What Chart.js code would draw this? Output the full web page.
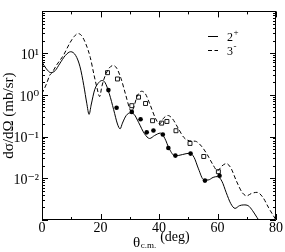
<!DOCTYPE html>
<html><head><meta charset="utf-8">
<script src="https://cdn.jsdelivr.net/npm/chart.js@4.4.1/dist/chart.umd.min.js"></script>
<style>html,body{margin:0;padding:0;background:#fff;}#wrap{width:285px;height:252px;position:relative;}</style>
</head><body><div id="wrap"><canvas id="c" width="285" height="252"></canvas></div>
<script>
const SERIF = "'Liberation Serif','DejaVu Serif','Times New Roman',serif";

// Series labels (state + parity)
const seriesLabels = ['2+', '3-'];

// 2+ calculation (solid)
const theta2Curve = [0,1.5,3,4.5,6,8,9.8,11.5,13,14.3,15.3,16.1,16.8,18,19.5,20.5,21.5,23,24.5,25.8,26.7,27.5,28.8,30.2,31.5,33,35,36.8,38.5,40.5,42,43.5,45.5,48,50.5,52,53.5,55.3,56.8,58.5,60,61.5,63,64.5,66,67.5,69,70.5,72,73.5,75];
const sigma2Curve = [6.1,4.2,3.4,3.8,5.5,8.8,10.8,8.8,4.7,1.66,0.63,0.34,0.57,1.32,2.0,2.2,2.0,1.07,0.44,0.2,0.153,0.21,0.32,0.37,0.34,0.22,0.118,0.09,0.106,0.121,0.09,0.051,0.0343,0.037,0.040,0.0316,0.0168,0.0092,0.0091,0.0105,0.011,0.0085,0.0045,0.0025,0.0019,0.0022,0.0023,0.0022,0.00167,0.00115,0.0008];

// 3- calculation (dashed)
const theta3Curve = [0,1.5,2.7,3.3,5,7.3,9.5,11,12.3,13.5,15,16.5,17.7,18.8,19.7,20.5,21.5,23,24.3,25.5,27,28.5,30,30.6,31.3,32.5,34,35.3,37,38.8,40.2,41.5,43,44.5,46.5,48.5,50.5,52.5,54.5,56.5,58.5,60,61.5,63,64.5,66.5,68.5,70,71.5,73.5,75.5,77.5,80];
const sigma3Curve = [1.07,1.81,3.0,3.3,5.2,8.8,17.4,25,29.4,26.4,16.5,7.9,3.2,1.47,0.91,1.63,2.76,4.4,5.05,4.4,2.48,1.07,0.46,0.39,0.49,0.91,1.22,1.07,0.57,0.273,0.2,0.273,0.32,0.273,0.161,0.095,0.079,0.077,0.059,0.037,0.0208,0.0152,0.0197,0.0225,0.018,0.0085,0.0045,0.0038,0.0043,0.0046,0.0035,0.00195,0.001];

// measured 2+ (filled circles)
const theta2Data = [22.7,25.5,30.7,33.7,35.8,38.1,41.3,43.2,45.6,50.8,55.7,60.7];
const sigma2Data = [1.30,0.49,0.39,0.26,0.126,0.14,0.112,0.053,0.035,0.039,0.0088,0.0115];

// measured 3- (open squares)
const theta3Data = [22.4,25.8,30.7,33.0,35.4,37.8,40.9,42.7,45.8,50.6,55.3,60.3];
const sigma3Data = [3.4,2.4,0.55,0.88,0.62,0.24,0.21,0.23,0.138,0.0685,0.0333,0.0144];

// axes
const xTickValues = [0,20,40,60,80];
const xMinorValues = [10,30,50,70];
const yLabelExponents = [-2,-1,0,1];
const yDecades = [-3,-2,-1,0,1,2];
const xTitleParts = ['θ', 'c.m.', '(deg)'];
const yTitle = 'dσ/dΩ (mb/sr)';

const supMap = {'-':'⁻','0':'⁰','1':'¹','2':'²','3':'³','4':'⁴','5':'⁵','6':'⁶','7':'⁷','8':'⁸','9':'⁹'};
const sup = s => String(s).split('').map(c => supMap[c] || c).join('');
const pts = (xs, ys) => xs.map((x, i) => ({x: x, y: ys[i]}));

const framePlugin = {
  id: 'frameTicks',
  afterDatasetsDraw(chart) {
    const ctx = chart.ctx, a = chart.chartArea;
    const xs = chart.scales.x, ys = chart.scales.y;
    ctx.save();
    ctx.strokeStyle = '#000';
    ctx.lineWidth = 1;
    ctx.beginPath();
    ctx.rect(Math.round(a.left) + 0.5, Math.round(a.top) + 0.5, Math.round(a.right - a.left) - 1, Math.round(a.bottom - a.top) - 1);
    ctx.stroke();
    ctx.beginPath();
    const xt = (v, len) => {
      const px = Math.round(xs.getPixelForValue(v)) + 0.5;
      ctx.moveTo(px, a.bottom); ctx.lineTo(px, a.bottom - len);
      ctx.moveTo(px, a.top); ctx.lineTo(px, a.top + len);
    };
    xTickValues.forEach(v => xt(v, 6));
    xMinorValues.forEach(v => xt(v, 3));
    const yt = (v, len) => {
      const py = Math.round(ys.getPixelForValue(v)) + 0.5;
      if (py < a.top - 0.1 || py > a.bottom + 0.6) return;
      ctx.moveTo(a.left, py); ctx.lineTo(a.left + len, py);
      ctx.moveTo(a.right, py); ctx.lineTo(a.right - len, py);
    };
    yDecades.forEach(e => {
      yt(Math.pow(10, e), 6);
      for (let m = 2; m <= 9; m++) yt(m * Math.pow(10, e), 3);
    });
    ctx.stroke();
    ctx.restore();
  },
  afterDraw(chart) {
    const ctx = chart.ctx, a = chart.chartArea;
    ctx.save();
    ctx.fillStyle = '#000';
    ctx.textBaseline = 'alphabetic';
    // x-axis title with subscript
    let x = (a.left + a.right) / 2 - 26;
    ctx.font = '15px ' + SERIF;
    ctx.fillText(xTitleParts[0], x, 247);
    x += ctx.measureText(xTitleParts[0]).width + 0.5;
    ctx.font = '9px ' + SERIF;
    ctx.fillText(xTitleParts[1], x, 248);
    x += ctx.measureText(xTitleParts[1]).width + 4;
    ctx.font = '14px ' + SERIF;
    ctx.fillText(xTitleParts[2], x, 241);
    // legend
    const ds = chart.data.datasets;
    const lx = a.right - 68;
    [0, 1].forEach(i => {
      const ly = a.top + 25 + i * 13.5;
      ctx.save();
      ctx.strokeStyle = ds[i].borderColor;
      ctx.lineWidth = ds[i].borderWidth;
      ctx.setLineDash(ds[i].borderDash || []);
      ctx.beginPath();
      ctx.moveTo(lx, Math.round(ly) + 0.5);
      ctx.lineTo(lx + 10, Math.round(ly) + 0.5);
      ctx.stroke();
      ctx.restore();
      const lab = ds[i].label;
      ctx.font = '12px ' + SERIF;
      ctx.fillText(lab.slice(0, -1), lx + 19, ly + 5);
      const w = ctx.measureText(lab.slice(0, -1)).width;
      ctx.font = '9px ' + SERIF;
      ctx.fillText(lab.slice(-1), lx + 19 + w + 0.5, ly - 1);
    });
    ctx.restore();
  }
};

new Chart(document.getElementById('c'), {
  type: 'line',
  data: {
    datasets: [
      { label: seriesLabels[0], data: pts(theta2Curve, sigma2Curve), borderColor: '#000', borderWidth: 1, pointRadius: 0, cubicInterpolationMode: 'monotone', fill: false },
      { label: seriesLabels[1], data: pts(theta3Curve, sigma3Curve), borderColor: '#000', borderWidth: 1, borderDash: [4, 2.5], pointRadius: 0, cubicInterpolationMode: 'monotone', fill: false },
      { label: seriesLabels[0] + ' data', data: pts(theta2Data, sigma2Data), showLine: false, pointStyle: 'circle', pointRadius: 2.3, backgroundColor: '#000', borderColor: '#000', borderWidth: 0 },
      { label: seriesLabels[1] + ' data', data: pts(theta3Data, sigma3Data), showLine: false, pointStyle: 'rect', pointRadius: 2.8, backgroundColor: '#fff', borderColor: '#000', borderWidth: 0.9 }
    ]
  },
  options: {
    responsive: false,
    animation: false,
    devicePixelRatio: 1,
    layout: { padding: { top: 3, right: 9, left: 0, bottom: 0 } },
    plugins: { legend: { display: false }, tooltip: { enabled: false } },
    scales: {
      x: {
        type: 'linear', min: 0, max: 80,
        grid: { display: false, drawTicks: false },
        border: { display: false },
        afterFit: s => { s.height = 32; },
        afterBuildTicks: s => { s.ticks = xTickValues.map(v => ({ value: v })); },
        ticks: { color: '#000', font: { family: SERIF, size: 14 }, padding: 0, maxRotation: 0, autoSkip: false, callback: v => String(v) }
      },
      y: {
        type: 'logarithmic', min: 1e-3, max: 1e2,
        grid: { display: false, drawTicks: false },
        border: { display: false },
        afterFit: s => { s.width = 42; },
        afterBuildTicks: s => { s.ticks = yLabelExponents.map(e => ({ value: Math.pow(10, e) })); },
        ticks: { color: '#000', font: { family: SERIF, size: 14 }, padding: 3, labelOffset: 2, autoSkip: false,
          callback: v => { const e = Math.round(Math.log10(v)); return '10' + sup(e); } },
        title: { display: true, text: yTitle, color: '#000', font: { family: SERIF, size: 15 }, padding: { top: 0, bottom: 0 } }
      }
    }
  },
  plugins: [framePlugin]
});
</script>
</body></html>
